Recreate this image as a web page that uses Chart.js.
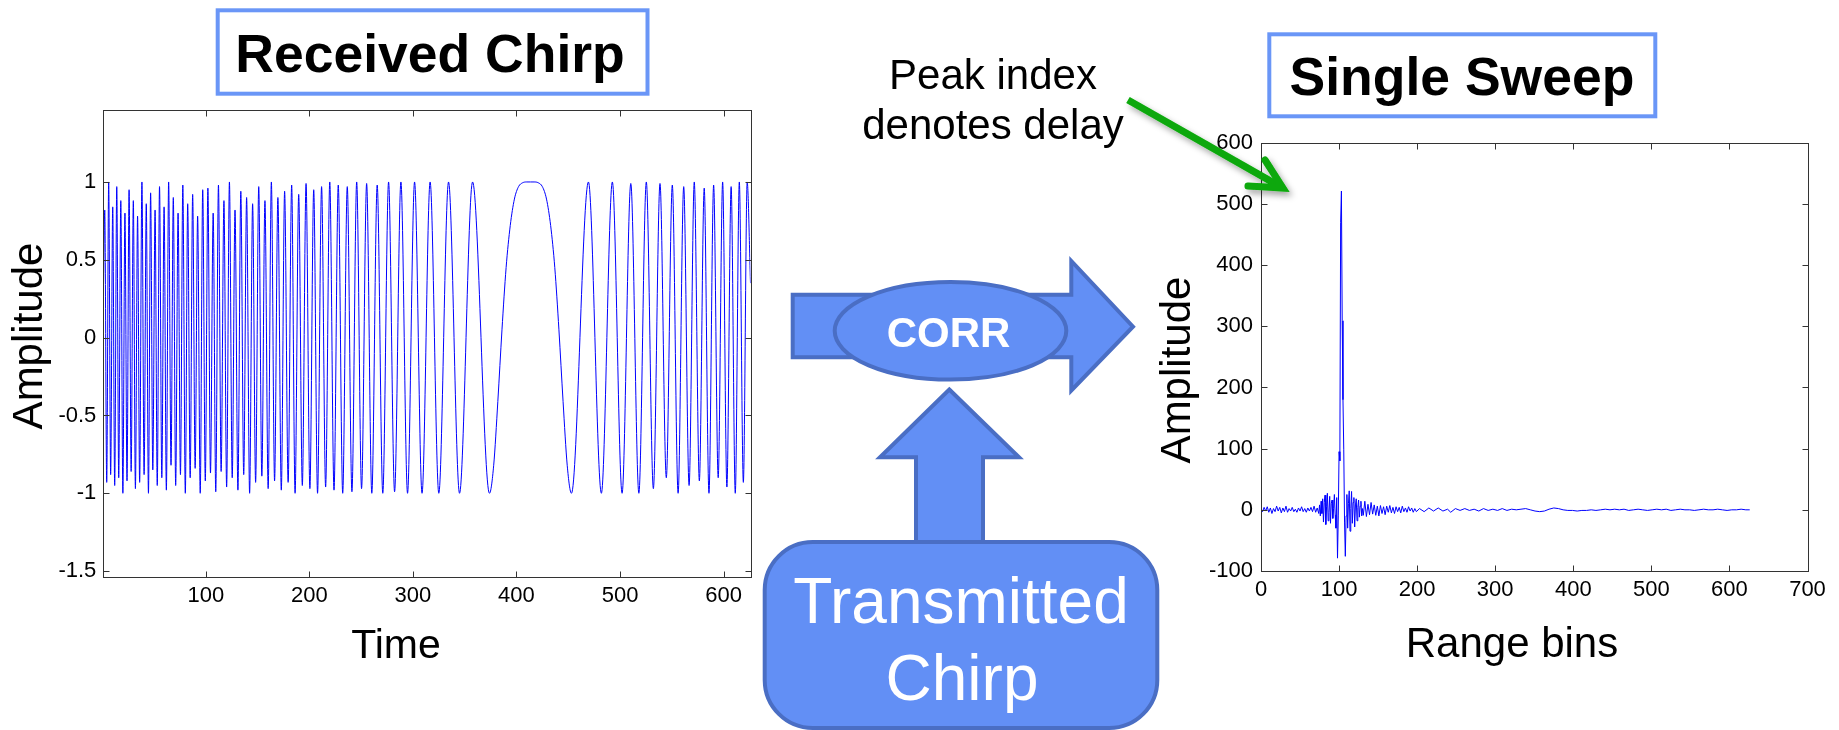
<!DOCTYPE html>
<html>
<head>
<meta charset="utf-8">
<title>Received chirp and single sweep</title>
<script src="https://cdn.jsdelivr.net/npm/chart.js@4.4.1/dist/chart.umd.min.js"></script>
<style>
  html, body { margin: 0; padding: 0; background: #fff; }
  #stage { position: relative; width: 1839px; height: 730px; overflow: hidden; }
  #stage canvas { position: absolute; }
  #chirp { left: 0; top: 90px; }
  #sweep { left: 1140px; top: 120px; }
  #overlay { position: absolute; left: 0; top: 0; }
</style>
</head>
<body>
<div id="stage">
  <canvas id="chirp" width="780" height="540"></canvas>
  <canvas id="sweep" width="699" height="520"></canvas>
  <svg id="overlay" width="1839" height="730" viewBox="0 0 1839 730" font-family="'Liberation Sans', Arial, sans-serif">
    <defs>
      <filter id="shadow" x="-20%" y="-40%" width="150%" height="200%">
        <feDropShadow dx="3" dy="4" stdDeviation="3" flood-color="#000" flood-opacity="0.35"/>
      </filter>
    </defs>

    <!-- panel titles -->
    <rect x="217.7" y="10.3" width="429.8" height="83.4" fill="#fff" stroke="#6a96f7" stroke-width="4"/>
    <text x="430" y="71.7" font-size="53.5" font-weight="bold" text-anchor="middle">Received Chirp</text>
    <rect x="1269.3" y="34.3" width="386" height="82" fill="#fff" stroke="#6a96f7" stroke-width="4"/>
    <text x="1462" y="95" font-size="53.5" font-weight="bold" text-anchor="middle">Single Sweep</text>

    <!-- axis titles -->
    <text x="396" y="658" font-size="41" text-anchor="middle">Time</text>
    <text x="1512" y="657" font-size="42" text-anchor="middle">Range bins</text>
    <text transform="translate(42,336) rotate(-90)" font-size="42" text-anchor="middle">Amplitude</text>
    <text transform="translate(1190,370) rotate(-90)" font-size="42" text-anchor="middle">Amplitude</text>

    <!-- correlation block -->
    <g fill="#628ff5" stroke="#4a6ec4" stroke-width="4">
      <path d="M792.7 294.7 H1071.3 V261 L1133 326.7 L1071.3 390.5 V357.3 H792.7 Z"/>
      <ellipse cx="950.5" cy="330.8" rx="115.8" ry="48.8"/>
      <path d="M949.3 389.5 L1019 457.3 H983 V545 H916 V457.3 H880 Z"/>
      <rect x="764.7" y="542" width="392.6" height="186" rx="48"/>
    </g>
    <text x="948.5" y="347.3" font-size="42" font-weight="bold" fill="#fff" text-anchor="middle">CORR</text>
    <text x="961" y="623.3" font-size="64" fill="#fff" text-anchor="middle">Transmitted</text>
    <text x="962" y="700" font-size="64" fill="#fff" text-anchor="middle">Chirp</text>

    <!-- peak note -->
    <text x="993" y="88.5" font-size="42" text-anchor="middle">Peak index</text>
    <text x="993" y="138.5" font-size="42" text-anchor="middle">denotes delay</text>
    <g filter="url(#shadow)" stroke="#08a808" stroke-width="7" fill="none">
      <line x1="1128" y1="100" x2="1281" y2="187"/>
      <polyline points="1265,160 1283,188 1248,186" stroke-linejoin="miter" stroke-linecap="round"/>
    </g>
  </svg>
</div>

<script>
// received chirp: turning points of the waveform plus the wide lobe near the centre
var chirpTime = [
  1, 2.4, 4.3, 6.2, 8.1, 10.1, 12.0, 14.0, 15.9, 17.9, 19.9,
  21.9, 23.9, 25.9, 27.9, 30.0, 32.0, 34.1, 36.1, 38.3, 40.4,
  42.5, 44.6, 46.7, 48.8, 51.0, 53.1, 55.3, 57.5, 59.7, 61.9,
  64.1, 66.4, 68.6, 70.9, 73.2, 75.5, 77.8, 80.2, 82.5, 84.9,
  87.3, 89.7, 92.1, 94.6, 97.0, 99.5, 102.0, 104.5, 107.1, 109.6,
  112.2, 114.8, 117.5, 120.1, 122.8, 125.5, 128.2, 131.0, 133.8, 136.6,
  139.4, 142.3, 145.2, 148.1, 151.1, 154.1, 157.1, 160.2, 163.3, 166.4,
  169.6, 172.9, 176.1, 179.5, 182.9, 186.2, 189.7, 193.2, 196.8, 200.5,
  204.2, 207.9, 211.8, 215.7, 219.7, 223.8, 227.9, 232.2, 236.6, 241.1,
  245.7, 250.4, 255.3, 260.3, 265.5, 270.9, 276.5, 282.3, 288.4, 294.8,
  301.6, 308.8, 316.6, 325.0, 334.4, 345.0, 357.6, 373.9,
  378, 382, 386, 390, 394, 398, 402, 406, 410, 413.5,
  417, 421, 425, 429, 433, 437, 441, 445, 449,
  453.1, 469.5, 482.0, 492.6, 502.0, 510.4, 518.2, 525.4, 532.2, 538.6,
  544.7, 550.5, 556.1, 561.5, 566.7, 571.7, 576.6, 581.3, 585.9, 590.4,
  594.8, 599.1, 603.2, 607.3, 611.3, 615.2, 619.1, 622.8, 626
];
var chirpAmp = [
  0.24, 0.82, -0.93, 1.0, -0.88, 0.84, -0.95, 0.97, -0.9, 0.88, -1.0,
  0.8, -0.92, 0.95, -0.86, 0.88, -0.97, 0.78, -0.93, 1.0, -0.88,
  0.86, -1.0, 0.93, -0.85, 0.82, -0.95, 0.97, -0.9, 0.84, -0.98,
  1.0, -0.82, 0.9, -0.95, 0.8, -0.88, 0.98, -1.0, 0.86, -0.9,
  0.92, -0.84, 0.78, -1.0, 0.95, -0.92, 0.96, -0.87, 0.8, -0.99,
  0.98, -0.86, 0.88, -0.96, 1.0, -0.9, 0.82, -0.98, 0.94, -0.88,
  0.9, -1.0, 0.86, -0.93, 0.97, -0.89, 0.88, -0.97, 1.0, -0.92,
  0.9, -0.98, 0.94, -0.93, 0.98, -1.0, 0.92, -0.95, 0.99, -0.97,
  0.95, -1.0, 0.97, -0.96, 1.0, -0.98, 0.98, -1.0, 0.97, -0.99,
  1.0, -0.97, 0.99, -1.0, 0.98, -1.0, 1.0, -0.99, 1.0, -1.0,
  1.0, -1.0, 1.0, -1.0, 1.0, -1.0, 1.0, -1.0,
  -0.82, -0.41, 0.05, 0.45, 0.72, 0.89, 0.97, 0.995, 1.0, 1.0,
  1.0, 0.995, 0.97, 0.89, 0.72, 0.45, 0.05, -0.41, -0.82,
  -1.0, 1.0, -1.0, 1.0, -1.0, 0.99, -1.0, 1.0, -0.97, 0.99,
  -0.9, 0.98, -1.0, 0.97, -0.95, 1.0, -0.92, 0.96, -1.0, 0.98,
  -0.9, 1.0, -0.96, 0.97, -1.0, 1.0, -0.93, 1.0, 0.35
];

// single sweep: correlation output per range bin
var sweepBins = [
  0, 2, 4, 6, 8, 10, 12, 14, 16, 18, 20, 22, 24, 26, 28, 30, 32, 34, 36, 38,
  40, 42, 44, 46, 48, 50, 52, 54, 56, 58, 60, 62, 64, 66, 68, 70, 72, 74,
  75, 76, 77, 78, 79, 80, 81, 82, 83, 84, 85, 86, 87, 88, 89, 90, 91, 92, 93, 94,
  95, 96, 97, 98, 99, 100, 101, 102, 103, 104, 105, 106, 107, 108, 109, 110, 111, 112,
  113, 114, 115, 116, 117, 118, 119, 120, 121, 122, 123, 124, 125, 126, 127, 128, 129, 130,
  131, 133, 135, 137, 139, 141, 143, 145, 147, 149, 151, 153, 155, 157, 159, 161, 163, 165,
  167, 169, 171, 173, 175, 177, 179, 181, 183, 185, 187, 189, 191, 193, 195, 197, 199,
  203, 209, 215, 221, 227, 233, 239, 243, 249, 255, 261, 267, 273, 279, 285, 291, 297, 303,
  309, 315, 321, 327, 333, 339, 345, 351, 357, 363, 369, 375, 381, 387, 393, 399, 405, 411,
  417, 423, 429, 435, 441, 447, 453, 459, 465, 471, 477, 483, 489, 495, 501, 507, 513, 519,
  525, 531, 537, 543, 549, 555, 561, 567, 573, 579, 585, 591, 597, 603, 609, 615, 621, 626
];
var sweepAmp = [
  2, -3, 4, -2, 5, -4, 3, -6, 2, -3, 6, -2, 4, -5, 3, -3, 6, -4, 2, -2,
  4, -3, 1, -4, 3, -2, 5, -3, 2, -4, 3, -2, 4, -3, 6, -4, 3, -6,
  8, -10, 14, -6, 18, -20, 12, 24, -24, 5, 27, -18, -4, 22, -22, 10, 16, -14, 2, 25,
  -8, -30, 20, -79, -10, 95, 80, 470, 521, 309, 180, 98, -20, -76, -10, 25, -30, 10,
  31, -35, 2, 30, -22, 12, 20, -28, 8, 18, -18, 4, 16, -12, 6, 14, -10, 2,
  -9, 14, -11, 9, -8, 12, -7, 8, -9, 6, -10, 7, -6, 5, -8, 6, -4, 7,
  -5, 4, -6, 5, -3, 4, -5, 6, -3, 3, -4, 5, -2, 3, -4, 2, -3,
  2, -3, 3, -2, 3, -2, 1, -4, 2, -1, 2, -1, 1, -2, 2, -1, 1, -1,
  2, -1, 1, 0, 1, 2, 0, -2, -3, -2, 1, 3, 2, 0, -1, -1, -2, -1,
  -1, 0, -1, 0, 1, 0, 1, 0, 1, -1, 0, 1, 0, -1, 0, 1, 0, 1,
  -1, 0, 1, 0, 0, -1, 0, 1, 0, 0, 1, 0, -1, 0, 0, 1, 0, 0
];

// tick values for each axis
var chirpTimeTicks = [100, 200, 300, 400, 500, 600];
var chirpAmpTicks = [-1.5, -1, -0.5, 0, 0.5, 1];
var sweepBinTicks = [0, 100, 200, 300, 400, 500, 600, 700];
var sweepAmpTicks = [-100, 0, 100, 200, 300, 400, 500, 600];

Chart.defaults.font.family = "'Liberation Sans', Arial, sans-serif";
Chart.defaults.color = '#000';

function points(xs, ys) {
  return xs.map(function (x, i) { return { x: x, y: ys[i] }; });
}

function fixedTicks(values) {
  return function (scale) {
    scale.ticks = values.map(function (v) { return { value: v }; });
  };
}

// matlab style frame: thin box with short inward ticks on all four sides
var boxPlugin = {
  id: 'matlabBox',
  afterDraw: function (chart) {
    var ctx = chart.ctx, a = chart.chartArea;
    var xs = chart.scales.x, ys = chart.scales.y;
    var L = Math.round(a.left) + 0.5, R = Math.round(a.right) + 0.5;
    var T = Math.round(a.top) + 0.5, B = Math.round(a.bottom) + 0.5;
    ctx.save();
    ctx.strokeStyle = '#333';
    ctx.lineWidth = 1;
    ctx.beginPath();
    xs.ticks.forEach(function (t) {
      var px = Math.round(xs.getPixelForValue(t.value)) + 0.5;
      ctx.moveTo(px, B); ctx.lineTo(px, B - 6);
      ctx.moveTo(px, T); ctx.lineTo(px, T + 6);
    });
    ys.ticks.forEach(function (t) {
      var py = Math.round(ys.getPixelForValue(t.value)) + 0.5;
      ctx.moveTo(L, py); ctx.lineTo(L + 6, py);
      ctx.moveTo(R, py); ctx.lineTo(R - 6, py);
    });
    ctx.stroke();
    ctx.strokeRect(L, T, R - L, B - T);
    ctx.restore();
  }
};

function axis(min, max, ticks, pad, fit) {
  return {
    type: 'linear',
    min: min,
    max: max,
    afterBuildTicks: fixedTicks(ticks),
    afterFit: fit,
    grid: { display: false, drawTicks: false },
    border: { display: false },
    ticks: {
      font: { size: 22 },
      padding: pad,
      maxRotation: 0,
      autoSkip: false,
      callback: function (v) { return String(v); }
    }
  };
}

new Chart(document.getElementById('chirp'), {
  type: 'line',
  data: {
    datasets: [{
      data: points(chirpTime, chirpAmp),
      borderColor: '#0000ff',
      borderWidth: 1,
      pointRadius: 0,
      cubicInterpolationMode: 'monotone',
      fill: false
    }]
  },
  options: {
    responsive: false,
    animation: false,
    devicePixelRatio: 1,
    layout: { padding: { left: 0, top: 16.7, right: 29.5, bottom: 0 } },
    plugins: { legend: { display: false }, tooltip: { enabled: false } },
    scales: {
      x: axis(1, 626, chirpTimeTicks, 6, function (s) { s.height = 53.3; }),
      y: axis(-1.536, 1.461, chirpAmpTicks, 7, function (s) { s.width = 103.3; })
    }
  },
  plugins: [boxPlugin]
});

new Chart(document.getElementById('sweep'), {
  type: 'line',
  data: {
    datasets: [{
      data: points(sweepBins, sweepAmp),
      borderColor: '#0000ff',
      borderWidth: 1,
      pointRadius: 0,
      fill: false
    }]
  },
  options: {
    responsive: false,
    animation: false,
    devicePixelRatio: 1,
    layout: { padding: { left: 0, top: 22.7, right: 31.5, bottom: 0 } },
    plugins: { legend: { display: false }, tooltip: { enabled: false } },
    scales: {
      x: axis(0, 700, sweepBinTicks, 6, function (s) { s.height = 69; }),
      y: axis(-100, 600, sweepAmpTicks, 8, function (s) { s.width = 121; })
    }
  },
  plugins: [boxPlugin]
});
</script>
</body>
</html>
